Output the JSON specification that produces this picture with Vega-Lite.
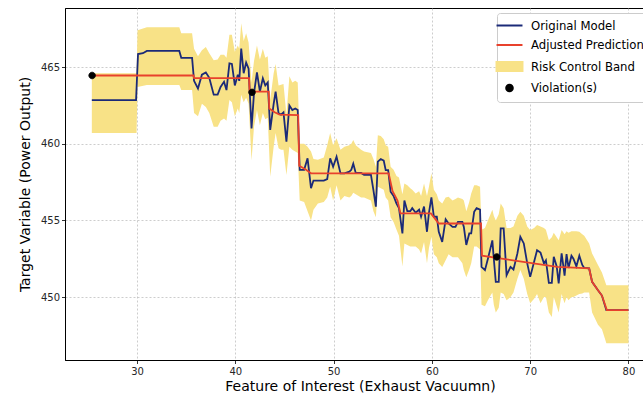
{
  "$schema": "https://vega.github.io/schema/vega-lite/v6.json",
  "width": 590,
  "height": 352,
  "autosize": {"type": "none"},
  "padding": {"left": 65, "top": 8, "right": 0, "bottom": 35},
  "background": "white",
  "datasets": {
    "band": [
      {"x": 25.4, "lo": 460.7, "hi": 464.6}, {"x": 29.95, "lo": 460.7, "hi": 464.6},
      {"x": 30.05, "lo": 463.7, "hi": 467.4}, {"x": 31.0, "lo": 463.83, "hi": 467.6},
      {"x": 34.3, "lo": 463.83, "hi": 467.6}, {"x": 34.5, "lo": 463.5, "hi": 467.2},
      {"x": 35.6, "lo": 463.5, "hi": 467.2}, {"x": 35.8, "lo": 462.0, "hi": 466.2},
      {"x": 36.2, "lo": 461.8, "hi": 465.7}, {"x": 36.6, "lo": 462.6, "hi": 466.1},
      {"x": 37.0, "lo": 462.4, "hi": 466.3}, {"x": 37.35, "lo": 462.0, "hi": 465.9},
      {"x": 37.8, "lo": 461.1, "hi": 465.45}, {"x": 38.2, "lo": 461.1, "hi": 465.5},
      {"x": 38.5, "lo": 461.5, "hi": 465.8}, {"x": 38.85, "lo": 461.65, "hi": 465.8},
      {"x": 39.1, "lo": 461.5, "hi": 465.6}, {"x": 39.4, "lo": 462.85, "hi": 467.1},
      {"x": 39.65, "lo": 462.7, "hi": 467.1}, {"x": 39.95, "lo": 461.8, "hi": 466.0},
      {"x": 40.25, "lo": 462.3, "hi": 466.4}, {"x": 40.4, "lo": 462.0, "hi": 466.2},
      {"x": 40.6, "lo": 463.2, "hi": 467.85}, {"x": 40.85, "lo": 462.7, "hi": 466.7},
      {"x": 41.1, "lo": 463.0, "hi": 467.2}, {"x": 41.35, "lo": 462.6, "hi": 466.6},
      {"x": 41.65, "lo": 458.9, "hi": 464.0}, {"x": 41.9, "lo": 461.1, "hi": 465.4},
      {"x": 42.2, "lo": 462.2, "hi": 466.4}, {"x": 42.5, "lo": 461.2, "hi": 465.5},
      {"x": 42.8, "lo": 462.0, "hi": 466.2}, {"x": 43.05, "lo": 461.6, "hi": 465.6},
      {"x": 43.3, "lo": 461.7, "hi": 465.7}, {"x": 43.55, "lo": 457.85, "hi": 462.85},
      {"x": 43.9, "lo": 459.8, "hi": 464.6}, {"x": 44.1, "lo": 460.7, "hi": 465.2},
      {"x": 44.4, "lo": 459.7, "hi": 463.8}, {"x": 44.65, "lo": 459.6, "hi": 463.85},
      {"x": 44.9, "lo": 459.6, "hi": 463.9}, {"x": 45.2, "lo": 457.96, "hi": 461.87},
      {"x": 45.5, "lo": 459.8, "hi": 464.4}, {"x": 45.8, "lo": 459.6, "hi": 464.0},
      {"x": 46.1, "lo": 459.5, "hi": 464.1}, {"x": 46.35, "lo": 459.4, "hi": 464.0},
      {"x": 46.55, "lo": 456.3, "hi": 460.0}, {"x": 47.0, "lo": 456.2, "hi": 460.0},
      {"x": 47.35, "lo": 455.6, "hi": 459.8}, {"x": 47.7, "lo": 455.0, "hi": 459.5},
      {"x": 47.95, "lo": 455.7, "hi": 459.0}, {"x": 48.4, "lo": 456.1, "hi": 458.95},
      {"x": 49.0, "lo": 456.2, "hi": 459.1}, {"x": 49.35, "lo": 456.5, "hi": 459.9},
      {"x": 49.65, "lo": 457.2, "hi": 460.7}, {"x": 49.95, "lo": 456.3, "hi": 459.9},
      {"x": 50.3, "lo": 457.3, "hi": 460.35}, {"x": 50.7, "lo": 456.3, "hi": 459.6},
      {"x": 51.1, "lo": 456.6, "hi": 459.8}, {"x": 51.6, "lo": 456.5, "hi": 459.9},
      {"x": 51.8, "lo": 456.6, "hi": 460.0}, {"x": 52.0, "lo": 456.8, "hi": 460.24},
      {"x": 52.25, "lo": 456.7, "hi": 459.9}, {"x": 52.8, "lo": 456.5, "hi": 459.6},
      {"x": 53.1, "lo": 456.5, "hi": 459.5}, {"x": 53.8, "lo": 456.3, "hi": 459.4},
      {"x": 54.05, "lo": 455.6, "hi": 459.0}, {"x": 54.3, "lo": 455.2, "hi": 458.5},
      {"x": 54.5, "lo": 457.2, "hi": 460.56}, {"x": 54.8, "lo": 457.1, "hi": 460.5},
      {"x": 55.1, "lo": 457.0, "hi": 460.3}, {"x": 55.3, "lo": 456.5, "hi": 459.9},
      {"x": 55.55, "lo": 456.3, "hi": 459.8}, {"x": 55.8, "lo": 455.2, "hi": 458.5},
      {"x": 56.1, "lo": 454.9, "hi": 458.3}, {"x": 56.4, "lo": 454.4, "hi": 457.9},
      {"x": 56.65, "lo": 454.0, "hi": 457.8}, {"x": 57.0, "lo": 452.0, "hi": 456.7},
      {"x": 57.2, "lo": 453.5, "hi": 457.4}, {"x": 57.5, "lo": 453.4, "hi": 457.3},
      {"x": 57.8, "lo": 453.3, "hi": 457.1}, {"x": 58.0, "lo": 453.3, "hi": 457.0},
      {"x": 58.35, "lo": 453.3, "hi": 456.76}, {"x": 58.7, "lo": 453.1, "hi": 456.9},
      {"x": 58.9, "lo": 452.85, "hi": 456.6}, {"x": 59.2, "lo": 453.6, "hi": 457.4},
      {"x": 59.5, "lo": 452.2, "hi": 456.6}, {"x": 59.7, "lo": 453.2, "hi": 457.2},
      {"x": 59.95, "lo": 453.93, "hi": 458.07}, {"x": 60.2, "lo": 452.8, "hi": 457.0},
      {"x": 60.5, "lo": 452.6, "hi": 456.7}, {"x": 60.7, "lo": 452.2, "hi": 456.3},
      {"x": 61.05, "lo": 451.97, "hi": 456.1}, {"x": 61.4, "lo": 452.4, "hi": 456.5},
      {"x": 61.7, "lo": 452.8, "hi": 456.54}, {"x": 62.1, "lo": 452.6, "hi": 456.3},
      {"x": 62.4, "lo": 452.6, "hi": 456.4}, {"x": 62.65, "lo": 452.6, "hi": 456.5},
      {"x": 63.1, "lo": 452.2, "hi": 456.4}, {"x": 63.25, "lo": 451.76, "hi": 456.3},
      {"x": 63.5, "lo": 451.3, "hi": 455.6}, {"x": 63.8, "lo": 451.8, "hi": 456.2},
      {"x": 64.0, "lo": 452.2, "hi": 456.76}, {"x": 64.3, "lo": 453.3, "hi": 457.3},
      {"x": 64.55, "lo": 453.3, "hi": 457.3}, {"x": 64.9, "lo": 453.1, "hi": 457.2},
      {"x": 65.05, "lo": 449.5, "hi": 454.4}, {"x": 65.4, "lo": 449.4, "hi": 454.5},
      {"x": 65.7, "lo": 449.8, "hi": 455.0}, {"x": 66.15, "lo": 450.3, "hi": 455.7},
      {"x": 66.3, "lo": 449.5, "hi": 455.3}, {"x": 66.5, "lo": 449.0, "hi": 455.0},
      {"x": 66.8, "lo": 449.3, "hi": 455.4}, {"x": 67.0, "lo": 450.3, "hi": 456.1},
      {"x": 67.3, "lo": 450.2, "hi": 455.8}, {"x": 67.6, "lo": 449.8, "hi": 454.5},
      {"x": 68.0, "lo": 450.0, "hi": 454.5}, {"x": 68.3, "lo": 450.3, "hi": 454.6},
      {"x": 68.7, "lo": 451.2, "hi": 455.3}, {"x": 69.0, "lo": 451.76, "hi": 455.56},
      {"x": 69.35, "lo": 451.2, "hi": 455.3}, {"x": 69.7, "lo": 450.2, "hi": 454.6},
      {"x": 70.0, "lo": 449.6, "hi": 454.37}, {"x": 70.4, "lo": 449.9, "hi": 454.5},
      {"x": 70.7, "lo": 450.2, "hi": 454.7}, {"x": 71.05, "lo": 449.6, "hi": 454.6},
      {"x": 71.4, "lo": 450.0, "hi": 454.5}, {"x": 71.6, "lo": 450.0, "hi": 454.4},
      {"x": 71.9, "lo": 449.0, "hi": 453.7}, {"x": 72.2, "lo": 448.7, "hi": 453.9},
      {"x": 72.4, "lo": 450.0, "hi": 454.2}, {"x": 72.7, "lo": 449.4, "hi": 453.9},
      {"x": 72.9, "lo": 449.0, "hi": 453.7}, {"x": 73.2, "lo": 450.2, "hi": 454.37},
      {"x": 73.4, "lo": 449.8, "hi": 454.2}, {"x": 73.5, "lo": 449.6, "hi": 454.1},
      {"x": 73.7, "lo": 450.0, "hi": 454.3}, {"x": 73.9, "lo": 449.8, "hi": 454.2},
      {"x": 74.2, "lo": 450.0, "hi": 454.3}, {"x": 74.4, "lo": 450.0, "hi": 454.3},
      {"x": 74.7, "lo": 450.1, "hi": 454.3}, {"x": 75.0, "lo": 450.2, "hi": 454.26},
      {"x": 75.3, "lo": 450.24, "hi": 454.1}, {"x": 75.5, "lo": 450.3, "hi": 454.0},
      {"x": 76.0, "lo": 450.3, "hi": 453.5}, {"x": 76.3, "lo": 449.0, "hi": 452.85},
      {"x": 76.9, "lo": 448.2, "hi": 452.1}, {"x": 77.3, "lo": 447.9, "hi": 451.6},
      {"x": 77.75, "lo": 447.0, "hi": 450.78}, {"x": 80.0, "lo": 447.0, "hi": 450.78}
    ],
    "orig": [
      {"x": 25.4, "y": 462.85}, {"x": 29.9, "y": 462.85}, {"x": 30.1, "y": 465.85}, {"x": 30.6, "y": 465.9},
      {"x": 31.0, "y": 466.05}, {"x": 34.3, "y": 466.05}, {"x": 34.5, "y": 465.6}, {"x": 35.6, "y": 465.6},
      {"x": 35.8, "y": 464.1}, {"x": 36.2, "y": 463.6}, {"x": 36.6, "y": 464.5}, {"x": 37.0, "y": 464.65},
      {"x": 37.35, "y": 464.3}, {"x": 37.8, "y": 463.2}, {"x": 38.2, "y": 463.2}, {"x": 38.5, "y": 463.7},
      {"x": 38.85, "y": 464.04}, {"x": 39.1, "y": 463.5}, {"x": 39.4, "y": 465.24}, {"x": 39.65, "y": 465.2},
      {"x": 39.95, "y": 463.8}, {"x": 40.25, "y": 464.5}, {"x": 40.4, "y": 464.1}, {"x": 40.6, "y": 466.2},
      {"x": 40.85, "y": 464.6}, {"x": 41.1, "y": 465.3}, {"x": 41.35, "y": 464.9}, {"x": 41.65, "y": 461.0},
      {"x": 41.9, "y": 463.3}, {"x": 42.2, "y": 464.65}, {"x": 42.5, "y": 463.4}, {"x": 42.8, "y": 464.26},
      {"x": 43.05, "y": 463.8}, {"x": 43.3, "y": 464.0}, {"x": 43.55, "y": 460.9}, {"x": 43.9, "y": 462.6},
      {"x": 44.1, "y": 463.4}, {"x": 44.4, "y": 461.98}, {"x": 44.65, "y": 461.9}, {"x": 44.9, "y": 462.05},
      {"x": 45.2, "y": 460.13}, {"x": 45.5, "y": 462.5}, {"x": 45.8, "y": 462.2}, {"x": 46.1, "y": 462.3},
      {"x": 46.35, "y": 462.2}, {"x": 46.55, "y": 458.3}, {"x": 47.0, "y": 458.3}, {"x": 47.35, "y": 459.05},
      {"x": 47.7, "y": 457.1}, {"x": 47.95, "y": 457.6}, {"x": 48.4, "y": 457.6}, {"x": 49.0, "y": 457.6},
      {"x": 49.35, "y": 457.7}, {"x": 49.65, "y": 459.05}, {"x": 49.95, "y": 458.5}, {"x": 50.3, "y": 459.15},
      {"x": 50.7, "y": 458.07}, {"x": 51.1, "y": 458.07}, {"x": 51.6, "y": 458.18}, {"x": 51.8, "y": 458.3},
      {"x": 52.0, "y": 458.7}, {"x": 52.25, "y": 458.1}, {"x": 52.8, "y": 458.1}, {"x": 53.1, "y": 457.97},
      {"x": 53.8, "y": 457.97}, {"x": 54.05, "y": 456.98}, {"x": 54.3, "y": 455.9}, {"x": 54.5, "y": 458.83},
      {"x": 54.8, "y": 459.0}, {"x": 55.1, "y": 458.9}, {"x": 55.3, "y": 458.28}, {"x": 55.55, "y": 458.28},
      {"x": 55.8, "y": 456.87}, {"x": 56.1, "y": 456.6}, {"x": 56.4, "y": 456.1}, {"x": 56.65, "y": 455.8},
      {"x": 57.0, "y": 454.15}, {"x": 57.2, "y": 456.3}, {"x": 57.5, "y": 455.6}, {"x": 57.8, "y": 455.6},
      {"x": 58.0, "y": 455.8}, {"x": 58.35, "y": 455.5}, {"x": 58.7, "y": 455.7}, {"x": 58.9, "y": 455.24},
      {"x": 59.2, "y": 455.9}, {"x": 59.5, "y": 454.26}, {"x": 59.7, "y": 455.5}, {"x": 59.95, "y": 456.5},
      {"x": 60.2, "y": 455.24}, {"x": 60.5, "y": 455.24}, {"x": 60.7, "y": 454.26}, {"x": 61.05, "y": 453.6},
      {"x": 61.4, "y": 455.07}, {"x": 61.7, "y": 454.8}, {"x": 62.1, "y": 454.58}, {"x": 62.4, "y": 454.58},
      {"x": 62.65, "y": 454.9}, {"x": 63.1, "y": 454.9}, {"x": 63.25, "y": 454.58}, {"x": 63.5, "y": 453.4},
      {"x": 63.8, "y": 454.15}, {"x": 64.0, "y": 454.15}, {"x": 64.3, "y": 455.56}, {"x": 64.55, "y": 455.8},
      {"x": 64.9, "y": 455.7}, {"x": 65.05, "y": 451.97}, {"x": 65.4, "y": 451.76}, {"x": 65.7, "y": 452.5},
      {"x": 66.15, "y": 453.7}, {"x": 66.3, "y": 452.5}, {"x": 66.5, "y": 451.0}, {"x": 66.8, "y": 451.0},
      {"x": 67.0, "y": 454.48}, {"x": 67.3, "y": 454.48}, {"x": 67.6, "y": 451.43}, {"x": 68.0, "y": 451.97},
      {"x": 68.3, "y": 451.8}, {"x": 68.7, "y": 452.85}, {"x": 69.0, "y": 453.93}, {"x": 69.35, "y": 453.5},
      {"x": 69.7, "y": 452.2}, {"x": 70.0, "y": 451.32}, {"x": 70.4, "y": 452.3}, {"x": 70.7, "y": 453.06},
      {"x": 71.05, "y": 452.9}, {"x": 71.4, "y": 452.2}, {"x": 71.6, "y": 452.4}, {"x": 71.9, "y": 450.93},
      {"x": 72.2, "y": 450.93}, {"x": 72.4, "y": 452.63}, {"x": 72.7, "y": 452.0}, {"x": 72.9, "y": 450.89},
      {"x": 73.2, "y": 452.85}, {"x": 73.4, "y": 451.9}, {"x": 73.5, "y": 451.4}, {"x": 73.7, "y": 452.8},
      {"x": 73.9, "y": 451.9}, {"x": 74.2, "y": 452.7}, {"x": 74.4, "y": 452.5}, {"x": 74.7, "y": 452.0},
      {"x": 75.0, "y": 452.7}, {"x": 75.3, "y": 452.1}, {"x": 75.5, "y": 451.9}, {"x": 76.0, "y": 451.87},
      {"x": 76.3, "y": 451.0}, {"x": 76.9, "y": 450.45}, {"x": 77.3, "y": 450.1}, {"x": 77.75, "y": 449.15},
      {"x": 80.0, "y": 449.15}
    ],
    "adj": [
      {"x": 25.4, "y": 464.45}, {"x": 35.75, "y": 464.45}, {"x": 35.8, "y": 464.28}, {"x": 41.4, "y": 464.28},
      {"x": 41.45, "y": 463.4}, {"x": 43.4, "y": 463.4}, {"x": 43.45, "y": 462.3}, {"x": 44.0, "y": 462.05},
      {"x": 44.5, "y": 461.9}, {"x": 46.4, "y": 461.87}, {"x": 46.5, "y": 458.56}, {"x": 47.2, "y": 458.3},
      {"x": 47.7, "y": 458.07}, {"x": 55.6, "y": 458.07}, {"x": 56.0, "y": 456.9}, {"x": 56.5, "y": 456.3},
      {"x": 56.8, "y": 455.46}, {"x": 59.9, "y": 455.46}, {"x": 60.7, "y": 454.8}, {"x": 65.0, "y": 454.8},
      {"x": 65.1, "y": 452.7}, {"x": 69.3, "y": 452.3}, {"x": 72.75, "y": 451.97}, {"x": 76.0, "y": 451.87},
      {"x": 76.3, "y": 451.0}, {"x": 76.9, "y": 450.45}, {"x": 77.3, "y": 450.1}, {"x": 77.8, "y": 449.15},
      {"x": 80.0, "y": 449.15}
    ],
    "viol": [
      {"x": 25.43, "y": 464.45, "series": "Violation(s)"},
      {"x": 41.7, "y": 463.35, "series": "Violation(s)"},
      {"x": 66.6, "y": 452.62, "series": "Violation(s)"}
    ]
  },
  "layer": [
    {
      "data": {"name": "band"},
      "mark": {"type": "area", "opacity": 1, "color": "#f8e287"},
      "encoding": {
        "x": {"field": "x", "type": "quantitative", "title": "Feature of Interest (Exhaust Vacuumn)",
              "scale": {"domain": [22.67, 82.7], "nice": false, "zero": false},
              "axis": {"values": [30, 40, 50, 60, 70, 80], "format": "d", "labelPadding": 3, "titlePadding": 3}},
        "y": {"field": "hi", "type": "quantitative", "title": "Target Variable (Power Output)",
              "scale": {"domain": [445.9, 468.85], "nice": false, "zero": false},
              "axis": {"values": [450, 455, 460, 465], "format": "d", "labelPadding": 2, "titlePadding": 8}},
        "y2": {"field": "lo"}
      }
    },
    {
      "data": {"name": "orig"},
      "mark": {"type": "line", "strokeWidth": 1.8, "color": "#1b2a78"},
      "encoding": {
        "x": {"field": "x", "type": "quantitative"},
        "y": {"field": "y", "type": "quantitative"}
      }
    },
    {
      "data": {"name": "adj"},
      "mark": {"type": "line", "strokeWidth": 1.8, "color": "#e8412c"},
      "encoding": {
        "x": {"field": "x", "type": "quantitative"},
        "y": {"field": "y", "type": "quantitative"}
      }
    },
    {
      "data": {"name": "viol"},
      "mark": {"type": "point", "filled": false, "size": 121, "opacity": 1, "strokeWidth": 0.8},
      "encoding": {
        "x": {"field": "x", "type": "quantitative"},
        "y": {"field": "y", "type": "quantitative"},
        "stroke": {"field": "series", "type": "nominal",
                   "scale": {"domain": ["Original Model", "Adjusted Prediction", "Risk Control Band", "Violation(s)"],
                             "range": ["#1b2a78", "#e8412c", "#f8e287", "#000000"]},
                   "legend": {"title": null}},
        "fill": {"field": "series", "type": "nominal",
                 "scale": {"domain": ["Original Model", "Adjusted Prediction", "Risk Control Band", "Violation(s)"],
                           "range": ["#1b2a78", "#e8412c", "#f8e287", "#000000"]},
                 "legend": {"title": null}},
        "shape": {"field": "series", "type": "nominal",
                  "scale": {"domain": ["Original Model", "Adjusted Prediction", "Risk Control Band", "Violation(s)"],
                            "range": ["M-2.36,0H2.36", "M-2.36,0H2.36", "M-2.36,-0.8H2.36V0.8H-2.36Z", "M0.6,0A0.6,0.6,0,1,1,-0.6,0A0.6,0.6,0,1,1,0.6,0Z"]},
                  "legend": {"title": null}}
      }
    }
  ],
  "config": {
    "view": {"stroke": "#000000", "strokeWidth": 1},
    "legend": {
      "orient": "top-right", "offset": 5,
      "fillColor": "white", "strokeColor": "#cccccc", "cornerRadius": 3, "padding": 6,
      "labelFont": "DejaVu Sans", "labelFontSize": 11.7, "labelColor": "#000000",
      "symbolSize": 121, "symbolStrokeWidth": 2, "symbolOpacity": 1, "labelOffset": 15, "rowPadding": 5.5
    },
    "axis": {
      "labelFont": "DejaVu Sans", "labelFontSize": 10, "labelColor": "#262626",
      "titleFont": "DejaVu Sans", "titleFontSize": 14, "titleFontWeight": "normal", "titleColor": "#000000",
      "tickColor": "#000000", "tickSize": 3.5, "tickWidth": 0.8,
      "domainColor": "#000000", "domainWidth": 1,
      "gridColor": "#b8b8b8", "gridDash": [2, 2], "gridWidth": 0.7, "gridOpacity": 1
    }
  }
}
